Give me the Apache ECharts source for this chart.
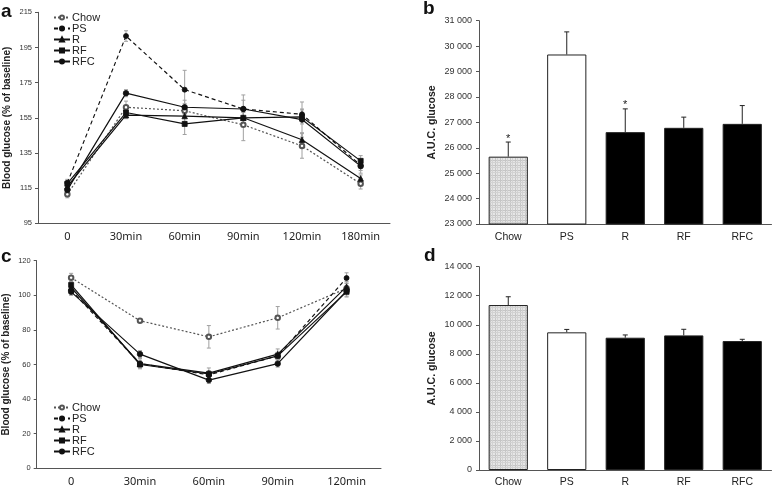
<!DOCTYPE html>
<html><head><meta charset="utf-8">
<script src="https://cdn.jsdelivr.net/npm/echarts@6/dist/echarts.min.js"></script>
<style>html,body{margin:0;padding:0;background:#fff}#c{width:778px;height:488px}</style>
</head><body><div id="c"></div>
<script>
// ---------- data ----------
const groupNames = ['Chow', 'PS', 'R', 'RF', 'RFC'];
// panel a (% of baseline)
const timesA = ['0', '30min', '60min', '90min', '120min', '180min'];
const chowA = [111.5, 161, 159, 151, 139, 117.5];
const psA   = [118, 201.5, 171, 160, 157, 128];
const rA    = [116, 156.5, 156, 155, 142.5, 120.5];
const rfA   = [117.5, 158, 151.5, 155, 155.5, 130.5];
const rfcA  = [114, 169, 161, 160, 154, 127.5];
const chowErrA = [2, 3.5, 4, 9, 7, 3];
const psErrA   = [2, 3, 11, 5, 3, 3];
const rErrA    = [2, 2, 3, 3, 4, 2];
const rfErrA   = [2, 2, 6, 4, 4, 3];
const rfcErrA  = [2, 2, 4, 8, 10, 4];
// panel c (% of baseline)
const timesC = ['0', '30min', '60min', '90min', '120min'];
const chowC = [110.2, 85.3, 76, 87, 104];
const psC   = [103, 60.5, 54, 65, 110];
const rC    = [104.5, 60.5, 55, 66, 105];
const rfC   = [106, 60, 54.5, 65, 102];
const rfcC  = [102, 66, 51, 60.5, 102.5];
const chowErrC = [2.5, 1, 6.5, 6.5, 3];
const psErrC   = [2, 2, 2, 2, 3];
const rErrC    = [2, 3, 3, 3, 3];
const rfErrC   = [2, 2, 2, 2, 3];
const rfcErrC  = [2, 2, 2, 2, 3];
// panel b (A.U.C.)
const aucB    = [25650, 29670, 26615, 26785, 26940];
const aucErrB = [575, 890, 915, 420, 720];
const sigB    = ['*', '', '*', '', ''];
// panel d (A.U.C.)
const aucD    = [11360, 9480, 9110, 9270, 8880];
const aucErrD = [570, 200, 190, 420, 120];
const sigD    = ['', '', '', '', ''];
// axis ranges [min, max, interval]
const ticksA = [95, 215, 20];
const ticksB = [23000, 31000, 1000];
const ticksC = [0, 120, 20];
const ticksD = [0, 14000, 2000];

// ---------- helpers ----------
const SANS = '"Liberation Sans", Arial, sans-serif';
const AX = '#555';
function thou(v) { return String(v).replace(/\B(?=(\d{3})+(?!\d))/g, ' '); }

const pat = document.createElement('canvas');
pat.width = 5; pat.height = 5;
(function () {
  const g = pat.getContext('2d');
  g.fillStyle = '#e6e6e6'; g.fillRect(0, 0, 5, 5);
  g.fillStyle = '#c6c6c6'; g.fillRect(0, 0, 5, 1); g.fillRect(0, 0, 1, 5);
  g.fillStyle = '#d2d2d2'; g.fillRect(0, 2, 5, 1); g.fillRect(2, 0, 1, 5);
})();

function errSeries(name, vals, errs, xi, yi, color, cap, upOnly, stars) {
  return {
    type: 'custom', name: name + '_err', xAxisIndex: xi, yAxisIndex: yi, z: 1, silent: true,
    encode: { x: 0, y: 1 },
    data: vals.map((v, i) => [i, v, errs[i]]),
    renderItem: function (params, api) {
      const i = api.value(0), v = api.value(1), e = api.value(2);
      const p0 = api.coord([i, upOnly ? v : v - e]);
      const p1 = api.coord([i, v + e]);
      const st = { stroke: color, lineWidth: 1 };
      const ch = [
        { type: 'line', shape: { x1: p0[0], y1: p0[1], x2: p1[0], y2: p1[1] }, style: st },
        { type: 'line', shape: { x1: p1[0] - cap, y1: p1[1], x2: p1[0] + cap, y2: p1[1] }, style: st }
      ];
      if (!upOnly) ch.push({ type: 'line', shape: { x1: p0[0] - cap, y1: p0[1], x2: p0[0] + cap, y2: p0[1] }, style: st });
      if (stars && stars[i]) ch.push({ type: 'text', style: { text: stars[i], x: p1[0], y: p1[1] + 2, align: 'center', verticalAlign: 'bottom', font: '11px ' + SANS, fill: '#222' } });
      return { type: 'group', children: ch };
    }
  };
}

const lineStyles = {
  Chow: { color: '#555', symbol: 'emptyCircle', size: 4.5, type: [2, 2] },
  PS:   { color: '#111', symbol: 'circle', size: 5, type: [4, 3] },
  R:    { color: '#111', symbol: 'triangle', size: 5.5, type: 'solid' },
  RF:   { color: '#111', symbol: 'rect', size: 5, type: 'solid' },
  RFC:  { color: '#111', symbol: 'circle', size: 5.5, type: 'solid' }
};
function lineSeries(name, vals, xi, yi) {
  const s = lineStyles[name];
  return {
    type: 'line', name: name, xAxisIndex: xi, yAxisIndex: yi, z: 3, data: vals,
    symbol: s.symbol, symbolSize: s.size, showSymbol: true,
    lineStyle: { color: s.color, width: 1.2, type: s.type },
    itemStyle: { color: s.color, borderColor: s.color, borderWidth: 0.8 },
    emphasis: { disabled: true }, animation: false
  };
}

function valAxis(gi, t, fmt, fs, margin) {
  return {
    type: 'value', gridIndex: gi, min: t[0], max: t[1], interval: t[2],
    axisLine: { show: true, lineStyle: { color: AX } },
    axisTick: { show: true, length: 3, lineStyle: { color: AX } },
    splitLine: { show: false },
    axisLabel: { fontSize: fs, fontFamily: SANS, color: '#333', margin: margin, formatter: fmt }
  };
}
const nameStyle = { fontWeight: 'bold', fontFamily: SANS, color: '#222' };

const grids = [
  { left: 38, top: 12.3, width: 352, height: 211 },
  { left: 479, top: 20.7, width: 292.5, height: 203.3 },
  { left: 36.7, top: 260.7, width: 344.3, height: 207.6 },
  { left: 479, top: 266.7, width: 292.5, height: 203.3 }
];

const xAxes = [
  { type: 'category', gridIndex: 0, data: timesA, boundaryGap: true,
    axisLine: { lineStyle: { color: AX } }, axisTick: { length: 4, lineStyle: { color: AX } },
    axisLabel: { fontSize: 11, fontFamily: '"Noto Sans", sans-serif', color: '#222', margin: 8 } },
  { type: 'category', gridIndex: 1, data: groupNames, boundaryGap: true,
    axisLine: { lineStyle: { color: AX } }, axisTick: { show: false },
    axisLabel: { fontSize: 10.5, fontFamily: SANS, color: '#222', margin: 8 } },
  { type: 'category', gridIndex: 2, data: timesC, boundaryGap: true,
    axisLine: { lineStyle: { color: AX } }, axisTick: { length: 4, lineStyle: { color: AX } },
    axisLabel: { fontSize: 11, fontFamily: '"Noto Sans", sans-serif', color: '#222', margin: 8 } },
  { type: 'category', gridIndex: 3, data: groupNames, boundaryGap: true,
    axisLine: { lineStyle: { color: AX } }, axisTick: { show: false },
    axisLabel: { fontSize: 10.5, fontFamily: SANS, color: '#222', margin: 7 } }
];

const yA = valAxis(0, ticksA, null, 7.5, 6);
yA.name = 'Blood glucose (% of baseline)'; yA.nameLocation = 'middle'; yA.nameGap = 26;
yA.nameTextStyle = Object.assign({ fontSize: 10 }, nameStyle);
const yB = valAxis(1, ticksB, thou, 9, 7);
yB.name = 'A.U.C. glucose'; yB.nameLocation = 'middle'; yB.nameGap = 41;
yB.nameTextStyle = Object.assign({ fontSize: 10.5 }, nameStyle);
const yC = valAxis(2, ticksC, null, 7.5, 6);
yC.name = 'Blood glucose (% of baseline)'; yC.nameLocation = 'middle'; yC.nameGap = 25;
yC.nameTextStyle = Object.assign({ fontSize: 10 }, nameStyle);
const yD = valAxis(3, ticksD, thou, 9, 7);
yD.name = 'A.U.C. glucose'; yD.nameLocation = 'middle'; yD.nameGap = 41;
yD.nameTextStyle = Object.assign({ fontSize: 10.5 }, nameStyle);

const barColors = [{ image: pat, repeat: 'repeat' }, '#fff', '#000', '#000', '#000'];
function barSeries(vals, xi, yi) {
  return {
    type: 'bar', name: 'auc' + xi, xAxisIndex: xi, yAxisIndex: yi, barWidth: '67%', z: 2,
    data: vals.map((v, i) => ({ value: v, itemStyle: { color: barColors[i], borderColor: '#222', borderWidth: 1 } })),
    emphasis: { disabled: true }, animation: false
  };
}

const series = [];
const setsA = { Chow: [chowA, chowErrA], PS: [psA, psErrA], R: [rA, rErrA], RF: [rfA, rfErrA], RFC: [rfcA, rfcErrA] };
const setsC = { Chow: [chowC, chowErrC], PS: [psC, psErrC], R: [rC, rErrC], RF: [rfC, rfErrC], RFC: [rfcC, rfcErrC] };
groupNames.forEach(n => series.push(errSeries(n + 'a', setsA[n][0], setsA[n][1], 0, 0, '#a0a0a0', 2, false, null)));
groupNames.forEach(n => series.push(errSeries(n + 'c', setsC[n][0], setsC[n][1], 2, 2, '#a0a0a0', 2, false, null)));
groupNames.forEach(n => series.push(lineSeries(n, setsA[n][0], 0, 0)));
groupNames.forEach(n => series.push(lineSeries(n, setsC[n][0], 2, 2)));
series.push(barSeries(aucB, 1, 1));
series.push(errSeries('b', aucB, aucErrB, 1, 1, '#222', 2.5, true, sigB));
series.push(barSeries(aucD, 3, 3));
series.push(errSeries('d', aucD, aucErrD, 3, 3, '#222', 2.5, true, sigD));

function legendAt(top) {
  return {
    data: groupNames, orient: 'vertical', left: 53, top: top, padding: 0, itemGap: 0,
    itemWidth: 16, itemHeight: 5, selectedMode: false,
    textStyle: { fontSize: 11, fontFamily: SANS, color: '#222', lineHeight: 10.7, padding: [0, 0, 0, -3] }
  };
}

const chart = echarts.init(document.getElementById('c'), null, { renderer: 'canvas' });
chart.setOption({
  animation: false,
  backgroundColor: '#fff',
  grid: grids,
  xAxis: xAxes,
  yAxis: [yA, yB, yC, yD],
  legend: [legendAt(12), legendAt(402)],
  series: series,
  graphic: [
    { type: 'text', left: 1, top: 2, style: { text: 'a', font: 'bold 19px ' + SANS, fill: '#111' } },
    { type: 'text', left: 423, top: -1, style: { text: 'b', font: 'bold 19px ' + SANS, fill: '#111' } },
    { type: 'text', left: 1, top: 247, style: { text: 'c', font: 'bold 19px ' + SANS, fill: '#111' } },
    { type: 'text', left: 424, top: 246, style: { text: 'd', font: 'bold 19px ' + SANS, fill: '#111' } }
  ]
});
</script>
</body></html>
